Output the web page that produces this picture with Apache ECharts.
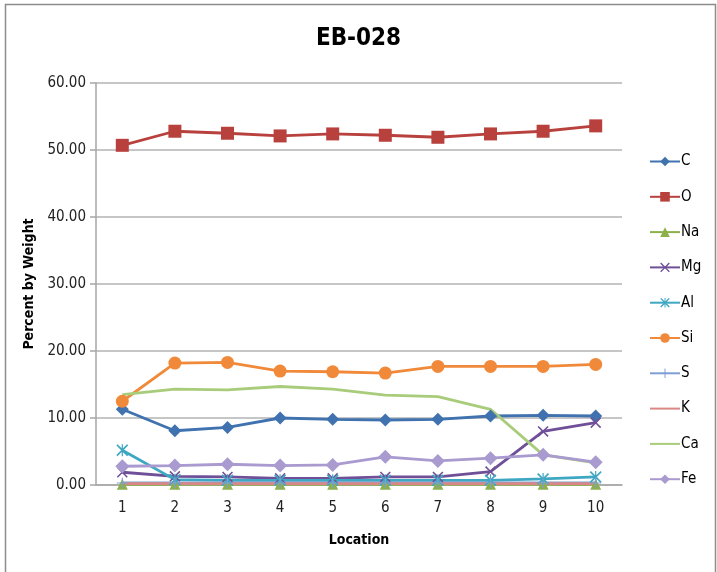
<!DOCTYPE html>
<html>
<head>
<meta charset="utf-8">
<script src="https://cdn.jsdelivr.net/npm/echarts@6/dist/echarts.min.js"></script>
<style>
  html, body { margin: 0; padding: 0; background: #fff; }
  #chart { width: 717px; height: 572px; }
</style>
</head>
<body>
<div id="chart"></div>
<script>
// Elemental composition per location for sample EB-028
const locations = ['1', '2', '3', '4', '5', '6', '7', '8', '9', '10'];
const C  = [11.3, 8.1, 8.6, 10.0, 9.8, 9.7, 9.8, 10.3, 10.4, 10.3];
const O  = [50.7, 52.8, 52.5, 52.1, 52.4, 52.2, 51.9, 52.4, 52.8, 53.6];
const Na = [0.1, 0.1, 0.1, 0.1, 0.1, 0.1, 0.1, 0.1, 0.1, 0.1];
const Mg = [1.9, 1.3, 1.2, 1.0, 1.0, 1.2, 1.2, 2.0, 8.0, 9.3];
const Al = [5.2, 0.8, 0.7, 0.7, 0.7, 0.7, 0.7, 0.7, 0.9, 1.2];
const Si = [12.5, 18.2, 18.3, 17.0, 16.9, 16.7, 17.7, 17.7, 17.7, 18.0];
const S  = [0.3, 0.3, 0.3, 0.3, 0.3, 0.3, 0.3, 0.3, 0.3, 0.3];
const K  = [0.2, 0.2, 0.2, 0.2, 0.2, 0.2, 0.2, 0.2, 0.2, 0.2];
const Ca = [13.5, 14.3, 14.2, 14.7, 14.3, 13.4, 13.2, 11.3, 4.5, 3.3];
const Fe = [2.8, 2.9, 3.1, 2.9, 3.0, 4.2, 3.6, 4.0, 4.5, 3.4];
const yTicks = { min: 0, max: 60, interval: 10 };

const FONT = "'Liberation Sans Narrow', 'DejaVu Sans Condensed', 'Liberation Sans', sans-serif";

// marker shapes
const xMark = 'path://M0,1 L1,0 L5,4 L9,0 L10,1 L6,5 L10,9 L9,10 L5,6 L1,10 L0,9 L4,5 Z';
const starMark = 'path://M0,1 L1,0 L4.5,3.5 L4.5,0 L5.5,0 L5.5,3.5 L9,0 L10,1 L6,5 L10,9 L9,10 L5.5,6.5 L5.5,10 L4.5,10 L4.5,6.5 L1,10 L0,9 L4,5 Z';
const plusMark = 'path://M4.5,0 H5.5 V4.5 H10 V5.5 H5.5 V10 H4.5 V5.5 H0 V4.5 H4.5 Z';

function line(name, data, color, symbol, size) {
  const plain = symbol === 'none';
  return {
    name, type: 'line', data,
    symbol: plain ? 'circle' : symbol,
    symbolSize: plain ? 1 : size,
    showSymbol: !plain,
    lineStyle: { color, width: 2.8 },
    // plain series keep a hidden marker so the legend shows only the line
    itemStyle: { color, opacity: plain ? 0 : 1 },
    emphasis: { disabled: true },
    animation: false
  };
}

const chart = echarts.init(document.getElementById('chart'));
chart.setOption({
  animation: false,
  title: {
    text: 'EB-028', left: 'center', top: 22,
    textStyle: { fontFamily: FONT, fontWeight: 'bold', fontSize: 24, color: '#000' }
  },
  graphic: [{
    type: 'rect', left: 3, top: 2,
    shape: { width: 710, height: 600 },
    style: { fill: 'none', stroke: '#8c8c8c', lineWidth: 1.5 }
  }],
  legend: {
    orient: 'vertical', left: 644, top: 149,
    itemWidth: 30, itemHeight: 12, itemGap: 20.3,
    textStyle: { fontFamily: FONT, fontSize: 15, color: '#000', padding: [0, 0, 0, -4] },
    data: ['C', 'O', 'Na', 'Mg', 'Al', 'Si', 'S', 'K', 'Ca', 'Fe']
  },
  grid: { left: 96, right: 95, top: 83, bottom: 87 },
  xAxis: {
    type: 'category', data: locations, boundaryGap: true,
    name: 'Location', nameLocation: 'middle', nameGap: 48,
    nameTextStyle: { fontFamily: FONT, fontWeight: 'bold', fontSize: 14, color: '#000' },
    axisLine: { lineStyle: { color: '#a6a6a6', width: 1.5 } },
    axisTick: { show: false },
    axisLabel: { fontFamily: FONT, fontSize: 15, color: '#222', margin: 16 }
  },
  yAxis: {
    type: 'value', min: yTicks.min, max: yTicks.max, interval: yTicks.interval,
    name: 'Percent by Weight', nameLocation: 'middle', nameGap: 57, nameRotate: 90,
    nameTextStyle: { fontFamily: FONT, fontWeight: 'bold', fontSize: 14, color: '#000' },
    axisLine: { show: true, lineStyle: { color: '#a6a6a6', width: 1.5 } },
    axisTick: { show: true, length: 6, lineStyle: { color: '#a6a6a6', width: 1.5 } },
    axisLabel: { fontFamily: FONT, fontSize: 15, color: '#222', margin: 10,
      formatter: v => v.toFixed(2) },
    splitLine: { lineStyle: { color: '#b3b3b3', width: 1.5 } }
  },
  series: [
    line('C', C, '#3f72af', 'diamond', 13),
    line('O', O, '#b8403d', 'rect', 13),
    line('Na', Na, '#8db04a', 'triangle', 11),
    line('Mg', Mg, '#6f4f97', xMark, 11),
    line('Al', Al, '#3ea7c2', starMark, 12),
    line('Si', Si, '#f08a3a', 'circle', 13),
    line('S', S, '#7f9fd6', plusMark, 11),
    line('K', K, '#d98886', 'none', 0),
    line('Ca', Ca, '#a8cc7a', 'none', 0),
    line('Fe', Fe, '#a99ad0', 'diamond', 14)
  ]
});
</script>
</body>
</html>
